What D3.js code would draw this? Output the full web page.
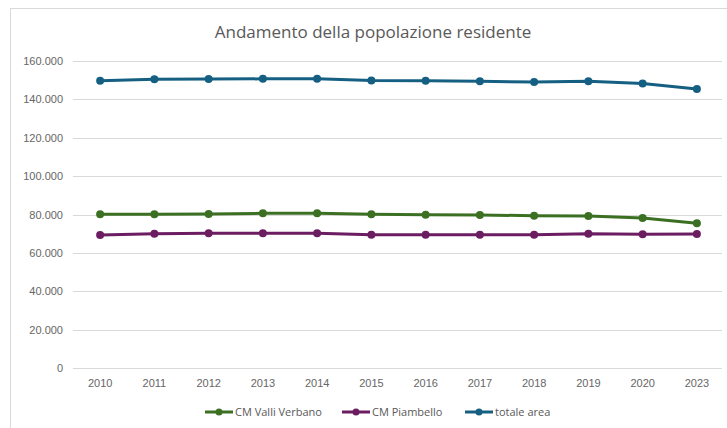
<!DOCTYPE html>
<html><head><meta charset="utf-8">
<script src="https://cdn.jsdelivr.net/npm/d3@7"></script>
<style>
html,body{margin:0;padding:0;background:#fff;}
svg{display:block;font-family:"Open Sans","Noto Sans",sans-serif;}
</style></head>
<body>
<svg id="chart" width="727" height="428"></svg>
<script>
const years = ["2010","2011","2012","2013","2014","2015","2016","2017","2018","2019","2020","2023"];
const valliVerbano = [80100,80100,80250,80600,80600,80100,79900,79700,79400,79200,78200,75400];
const piambello = [69300,70000,70200,70200,70200,69500,69500,69500,69500,70000,69700,69800];
const totaleArea = [149700,150500,150600,150700,150800,149900,149700,149400,149000,149400,148300,145400];
const yTicks = [0,20000,40000,60000,80000,100000,120000,140000,160000];
const seriesNames = ["CM Valli Verbano","CM Piambello","totale area"];
const seriesColors = ["#3b7023","#6c1d62","#156082"];
const seriesData = [valliVerbano, piambello, totaleArea];

const svg = d3.select("#chart");
svg.append("rect").attr("x",10.5).attr("y",8.5).attr("width",730).attr("height",430)
  .attr("fill","#fff").attr("stroke","#d9d9d9").attr("stroke-width",1);

const pLeft = 73, pRight = 724, pTop = 61, pBottom = 368;
const x = d3.scaleBand().domain(years).range([pLeft,pRight]);
const y = d3.scaleLinear().domain([0,160000]).range([pBottom,pTop]);
const fmt = v => v === 0 ? "0" : d3.format(",")(v).replace(/,/g,".");

// gridlines
svg.append("g").selectAll("line").data(yTicks).join("line")
  .attr("x1",pLeft).attr("x2",pRight-2)
  .attr("y1",d=>Math.round(y(d))+0.5).attr("y2",d=>Math.round(y(d))+0.5)
  .attr("stroke","#d9d9d9").attr("stroke-width",1);

// y axis labels
const yAxis = d3.axisLeft(y).tickValues(yTicks).tickFormat(fmt).tickSize(0).tickPadding(10);
const gy = svg.append("g").attr("transform",`translate(${pLeft},0)`).call(yAxis);
gy.select(".domain").remove();
gy.selectAll("text").attr("fill","#666666").style("font-size","11px");

// x axis labels
const xAxis = d3.axisBottom(x).tickSize(0).tickPadding(11);
const gx = svg.append("g").attr("transform",`translate(0,${pBottom})`).call(xAxis);
gx.select(".domain").remove();
gx.selectAll("text").attr("fill","#666666").style("font-size","11px");

// lines
const line = d3.line().x((d,i)=>x(years[i])+x.bandwidth()/2).y(d=>y(d));
seriesData.forEach((data,si)=>{
  const g = svg.append("g");
  g.append("path").datum(data).attr("d",line).attr("fill","none")
    .attr("stroke",seriesColors[si]).attr("stroke-width",3).attr("stroke-linejoin","round").attr("stroke-linecap","round");
  g.selectAll("circle").data(data).join("circle")
    .attr("cx",(d,i)=>x(years[i])+x.bandwidth()/2).attr("cy",d=>y(d)).attr("r",4)
    .attr("fill",seriesColors[si]);
});

// title
svg.append("text").attr("x",373).attr("y",38).attr("text-anchor","middle")
  .attr("fill","#595959").style("font-size","17px").text("Andamento della popolazione residente");

// legend
const legendX = [205,342,465];
const lg = svg.append("g");
seriesNames.forEach((n,i)=>{
  const lx = legendX[i], ly = 412;
  lg.append("line").attr("x1",lx).attr("x2",lx+28).attr("y1",ly).attr("y2",ly)
    .attr("stroke",seriesColors[i]).attr("stroke-width",3);
  lg.append("circle").attr("cx",lx+14).attr("cy",ly).attr("r",3.5).attr("fill",seriesColors[i]);
  lg.append("text").attr("x",lx+30).attr("y",ly+4).attr("fill","#595959")
    .style("font-size","11px").text(n);
});
</script>
</body></html>
